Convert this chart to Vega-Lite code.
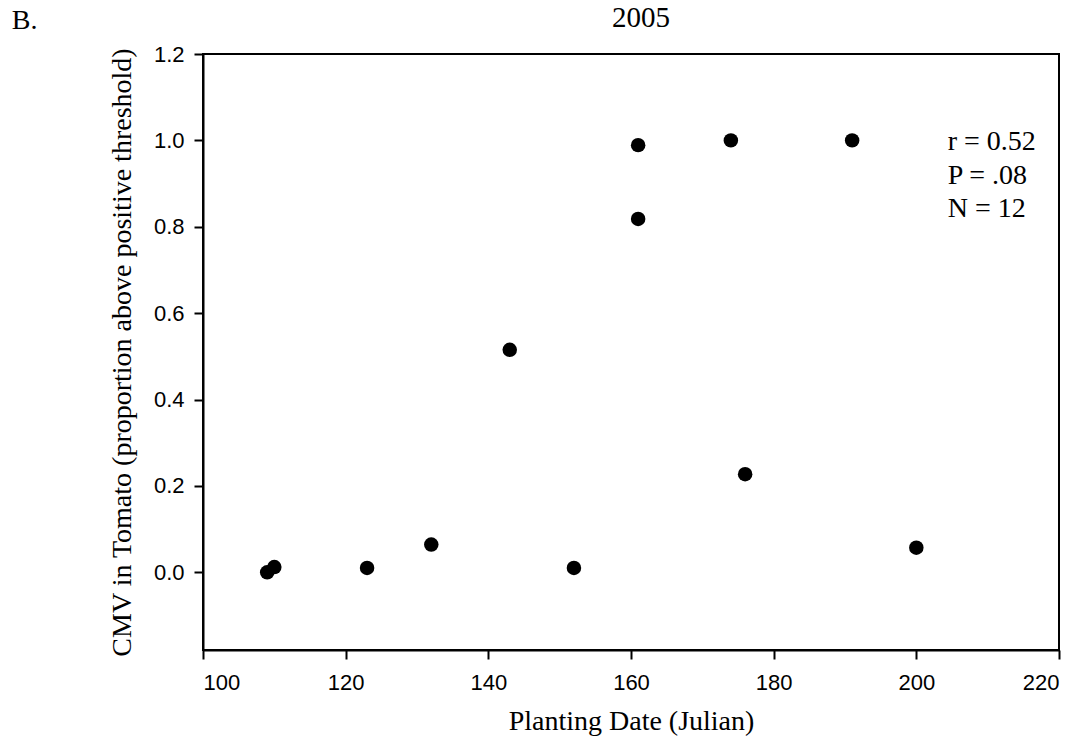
{
  "$schema": "https://vega.github.io/schema/vega-lite/v6.json",
  "width": 856,
  "height": 596,
  "autosize": {"type": "none"},
  "padding": {"left": 203, "top": 54, "right": 33, "bottom": 105},
  "background": "white",
  "config": {
    "view": {"stroke": "black", "strokeWidth": 2},
    "axis": {
      "grid": false,
      "domainColor": "black",
      "domainWidth": 2,
      "tickColor": "black",
      "tickWidth": 2,
      "tickSize": 9,
      "labelFont": "Liberation Sans",
      "labelFontSize": 22,
      "labelColor": "black",
      "titleFont": "Liberation Serif",
      "titleFontSize": 28,
      "titleFontWeight": "normal",
      "titleColor": "black"
    }
  },
  "datasets": {
    "points": [
      {"date": 109, "cmv": 0.0},
      {"date": 110, "cmv": 0.012},
      {"date": 123, "cmv": 0.01},
      {"date": 132, "cmv": 0.064},
      {"date": 143, "cmv": 0.515},
      {"date": 152, "cmv": 0.01},
      {"date": 161, "cmv": 0.989},
      {"date": 161, "cmv": 0.818},
      {"date": 174, "cmv": 1.0},
      {"date": 176, "cmv": 0.227},
      {"date": 191, "cmv": 1.0},
      {"date": 200, "cmv": 0.057}
    ],
    "notes": [
      {"note": "r = 0.52", "date": 204.4, "cmv": 0.9775},
      {"note": "P = .08", "date": 204.4, "cmv": 0.899},
      {"note": "N = 12", "date": 204.4, "cmv": 0.8225},
      {"note": "B.", "date": 73.2, "cmv": 1.2576}
    ],
    "heading": [
      {"note": "2005", "date": 161.4, "cmv": 1.2626}
    ]
  },
  "layer": [
    {
      "data": {"name": "points"},
      "mark": {"type": "point", "filled": true, "shape": "circle", "size": 210, "color": "black", "opacity": 1},
      "encoding": {
        "x": {
          "field": "date",
          "type": "quantitative",
          "scale": {"domain": [100, 220], "nice": false, "zero": false},
          "axis": {
            "title": "Planting Date (Julian)",
            "values": [100, 120, 140, 160, 180, 200, 220],
            "format": "d",
            "labelPadding": 13,
            "titlePadding": 14
          }
        },
        "y": {
          "field": "cmv",
          "type": "quantitative",
          "scale": {"domain": [-0.18, 1.2], "nice": false, "zero": false},
          "axis": {
            "title": "CMV in Tomato (proportion above positive threshold)",
            "values": [0, 0.2, 0.4, 0.6, 0.8, 1.0, 1.2],
            "format": ".1f",
            "labelPadding": 10,
            "titlePadding": 17
          }
        }
      }
    },
    {
      "data": {"name": "notes"},
      "mark": {"type": "text", "font": "Liberation Serif", "fontSize": 28, "align": "left", "baseline": "alphabetic", "color": "black"},
      "encoding": {
        "x": {"field": "date", "type": "quantitative"},
        "y": {"field": "cmv", "type": "quantitative"},
        "text": {"field": "note"}
      }
    },
    {
      "data": {"name": "heading"},
      "mark": {"type": "text", "font": "Liberation Serif", "fontSize": 29, "align": "center", "baseline": "alphabetic", "color": "black"},
      "encoding": {
        "x": {"field": "date", "type": "quantitative"},
        "y": {"field": "cmv", "type": "quantitative"},
        "text": {"field": "note"}
      }
    }
  ]
}
